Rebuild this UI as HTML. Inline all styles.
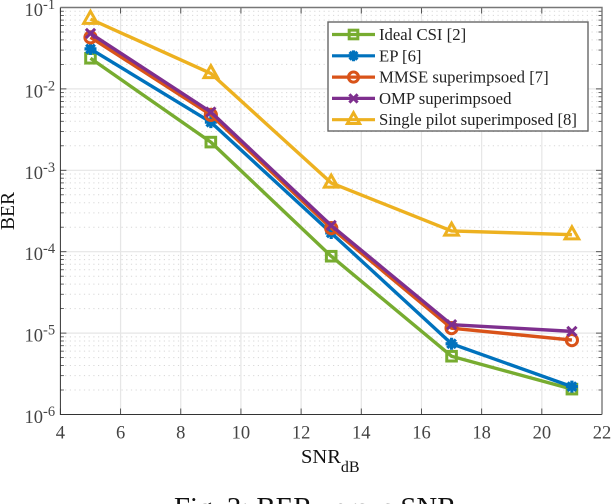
<!DOCTYPE html>
<html><head><meta charset="utf-8">
<style>
html,body{margin:0;padding:0;background:#fff;width:612px;height:504px;overflow:hidden}
svg{display:block;font-family:"Liberation Serif",serif;filter:blur(0.35px)}
</style></head>
<body>
<svg id="chart" width="612" height="504" viewBox="0 0 612 504" xmlns="http://www.w3.org/2000/svg">
<g id="grid"></g>
<g id="axes"></g>
<g id="series"></g>
<g id="legend"></g>
<text transform="translate(14,211) rotate(-90)" text-anchor="middle" font-size="19.5" fill="#111">BER</text>
<text x="301" y="463" font-size="20.5" fill="#111">SNR<tspan dy="9" font-size="16">dB</tspan></text>
<text x="174" y="517" font-size="28.8" fill="#111">Fig. 3: BER versus SNR</text>
</svg>
<script>
const xTicks = [4, 6, 8, 10, 12, 14, 16, 18, 20, 22];
const yExponents = [-1, -2, -3, -4, -5, -6];
const snr = [5, 9, 13, 17, 21];
const idealCsi = [0.0238, 0.00222, 0.000088, 0.0000052, 0.00000205];
const ep = [0.031, 0.0039, 0.00017, 0.0000074, 0.0000022];
const mmse = [0.043, 0.0048, 0.000195, 0.0000115, 0.0000082];
const omp = [0.048, 0.0052, 0.00021, 0.0000127, 0.0000105];
const singlePilot = [0.072, 0.0155, 0.0007, 0.00018, 0.000162];
const labels = ['Ideal CSI [2]', 'EP [6]', 'MMSE superimpsoed [7]', 'OMP superimpsoed', 'Single pilot superimposed [8]'];

const NS = 'http://www.w3.org/2000/svg';
const L = 60.4, R = 602, T = 7.5, B = 414.5;
const xs = v => L + (v - 4) / 18 * (R - L);
const ys = v => T + (-1 - Math.log10(v)) / 5 * (B - T);
function mk(parent, tag, attrs) {
  const e = document.createElementNS(NS, tag);
  for (const k in attrs) e.setAttribute(k, attrs[k]);
  parent.appendChild(e);
  return e;
}
const grid = document.getElementById('grid');
const axes = document.getElementById('axes');
const seriesG = document.getElementById('series');
const legendG = document.getElementById('legend');

xTicks.slice(1, -1).forEach(t => {
  const l = mk(grid, 'line', {x1: xs(t), x2: xs(t), y1: T, y2: B, stroke: '#e6e6e6', 'stroke-width': 1.2});
  
  
});
yExponents.forEach(e => {
  const y = ys(Math.pow(10, e));
  if (e > -6 && e < -1) {
    const l = mk(grid, 'line', {x1: L, x2: R, y1: y, y2: y, stroke: '#e6e6e6', 'stroke-width': 1.2});
    
    
  }
  if (e > -6) {
    for (let m = 2; m < 10; m++) {
      const yy = ys(m * Math.pow(10, e - 1));
      const d = mk(grid, 'line', {x1: L, x2: R, y1: yy, y2: yy, stroke: '#d8d8d8', 'stroke-width': 1, 'stroke-dasharray': '1.2 3.5'});
      
      
      [[L, L + 3.5], [R - 3.5, R]].forEach(p => {
        const t = mk(axes, 'line', {x1: p[0], x2: p[1], y1: yy, y2: yy, stroke: '#444', 'stroke-width': 0.8});
        
        
      });
    }
  }
  [[L, L + 6], [R - 6, R]].forEach(p => {
    const t = mk(axes, 'line', {x1: p[0], x2: p[1], y1: y, y2: y, stroke: '#444', 'stroke-width': 0.9});
    
    
  });
  const lab = mk(axes, 'text', {x: 24.5, y: y + 8.5, 'font-size': 18.5, fill: '#444'});
  
  
  lab.textContent = '10';
  const s = mk(lab, 'tspan', {dy: -7, 'font-size': 14.5});
  s.textContent = String(e);
});
xTicks.forEach(t => {
  const x = xs(t);
  [[B, B - 6], [T, T + 6]].forEach(p => {
    const k = mk(axes, 'line', {x1: x, x2: x, y1: p[0], y2: p[1], stroke: '#444', 'stroke-width': 0.9});
    
    
  });
  const lab = mk(axes, 'text', {x: x, y: 438.5, 'font-size': 18.5, fill: '#444', 'text-anchor': 'middle'});
  
  
  lab.textContent = String(t);
});
const b1 = mk(axes, 'path', {d: `M${L} ${T}V${B}H${R}`, fill: 'none', stroke: '#333', 'stroke-width': 1});


const b2 = mk(axes, 'path', {d: `M${L} ${T}H${R}V${B}`, fill: 'none', stroke: '#777', 'stroke-width': 1.4});



function marker(g, kind, x, y, color, scale) {
  const c = {fill: 'none', stroke: color, 'stroke-width': 3};
  const k = scale;
  let m;
  if (kind === 'square') m = mk(g, 'rect', Object.assign({x: x - 4.8 * k, y: y - 4.8 * k, width: 9.6 * k, height: 9.6 * k}, c));
  if (kind === 'circle') m = mk(g, 'circle', Object.assign({cx: x, cy: y, r: 5.6 * k}, c));
  if (kind === 'triangle') m = mk(g, 'path', Object.assign({d: `M${x} ${y - 7.8 * k}L${x + 6.8 * k} ${y + 4.2 * k}H${x - 6.8 * k}Z`}, c));
  if (kind === 'x') m = mk(g, 'path', Object.assign({d: `M${x - 4.6 * k} ${y - 4.6 * k}L${x + 4.6 * k} ${y + 4.6 * k}M${x + 4.6 * k} ${y - 4.6 * k}L${x - 4.6 * k} ${y + 4.6 * k}`}, c));
  if (kind === 'star') {
    c['stroke-width'] = 3.2;
    m = mk(g, 'path', Object.assign({d: `M${x} ${y - 6 * k}V${y + 6 * k}M${x - 6 * k} ${y}H${x + 6 * k}M${x - 4.3 * k} ${y - 4.3 * k}L${x + 4.3 * k} ${y + 4.3 * k}M${x + 4.3 * k} ${y - 4.3 * k}L${x - 4.3 * k} ${y + 4.3 * k}`}, c));
  }
  
  
}
const defs = [
  {v: idealCsi, color: '#77ac30', kind: 'square'},
  {v: ep, color: '#0072bd', kind: 'star'},
  {v: mmse, color: '#d95319', kind: 'circle'},
  {v: omp, color: '#7e2f8e', kind: 'x'},
  {v: singlePilot, color: '#edb120', kind: 'triangle'}
];
defs.forEach(d => {
  const g = mk(seriesG, 'g', {});
  
  
  const pts = d.v.map((v, i) => xs(snr[i]) + ',' + ys(v)).join(' ');
  const pl = mk(g, 'polyline', {points: pts, fill: 'none', stroke: d.color, 'stroke-width': 3.4, 'stroke-linejoin': 'round'});
  
  
  d.v.forEach((v, i) => marker(g, d.kind, xs(snr[i]), ys(v), d.color, 1));
});

const box = mk(legendG, 'rect', {x: 328, y: 22, width: 260, height: 109, fill: '#fff', stroke: '#666', 'stroke-width': 1.4});


defs.forEach((d, i) => {
  const y = 34.5 + i * 21.3;
  const g = mk(legendG, 'g', {});
  
  
  const l = mk(g, 'line', {x1: 332, x2: 375, y1: y, y2: y, stroke: d.color, 'stroke-width': 3.2});
  
  
  marker(g, d.kind, 353.5, y, d.color, 0.9);
  const t = mk(g, 'text', {x: 379, y: y + 5.5, 'font-size': 16.7, fill: '#222'});
  
  
  t.textContent = labels[i];
});
</script>
</body></html>
